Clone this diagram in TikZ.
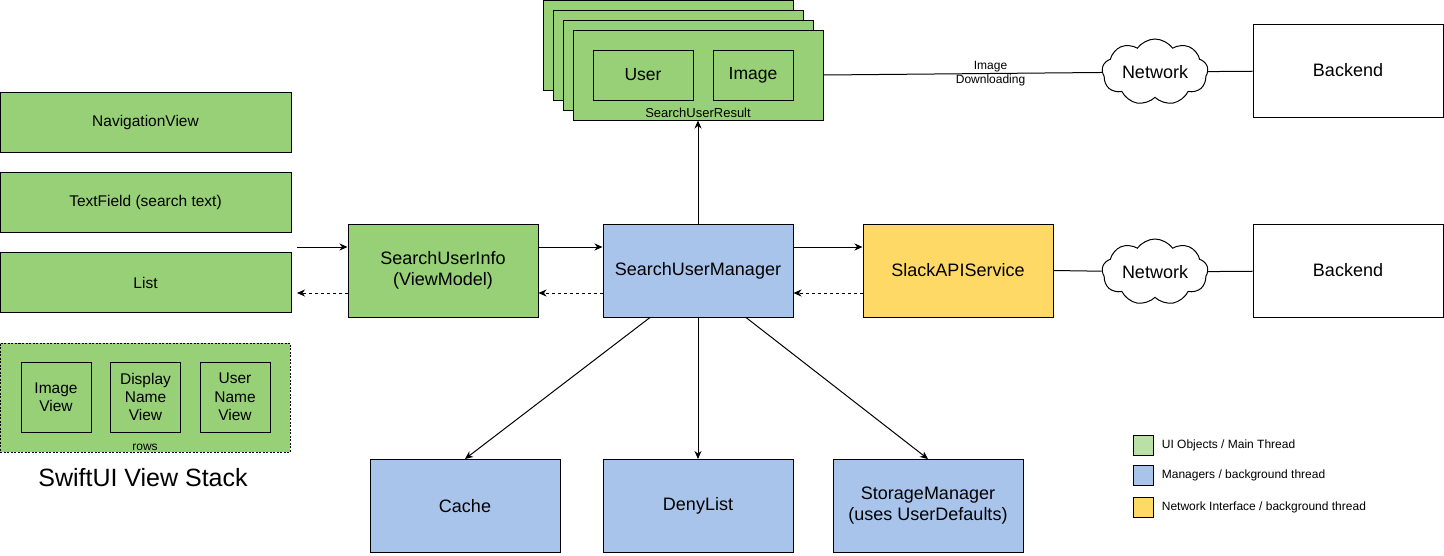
\documentclass[tikz,border=0pt]{standalone}
\usepackage{fontspec}
\setmainfont{Liberation Sans}
\usepackage{xcolor}
\usepackage{tikz}
\usetikzlibrary{arrows.meta,shapes.symbols}

\definecolor{uigreen}{HTML}{97D077}
\definecolor{mgrblue}{HTML}{A9C4EB}
\definecolor{netyellow}{HTML}{FFD966}
\definecolor{keygreen}{HTML}{B9E0A5}
\newcommand{\fsz}[2]{\fontsize{#1}{#2}\selectfont}

\begin{document}
\begin{tikzpicture}[x=1pt, y=-1pt, line width=1pt,
    box/.style={draw, rectangle, minimum width=190pt, minimum height=93pt, align=center, font=\fsz{18}{21}},
    viewbox/.style={draw, rectangle, fill=uigreen, minimum width=291pt, minimum height=60pt, font=\fsz{15.5}{18}},
    rowbox/.style={draw, rectangle, minimum width=70pt, minimum height=70pt, align=center, font=\fsz{15.5}{18.3}},
    card/.style={draw, rectangle, fill=uigreen, minimum width=250pt, minimum height=90pt},
    netcloud/.style={draw, cloud, cloud puffs=9, cloud puff arc=110, aspect=1.6, minimum width=106pt, minimum height=66pt, inner sep=0pt},
    keybox/.style={draw, rectangle, minimum width=20pt, minimum height=20pt},
    keytext/.style={anchor=west, font=\fsz{12}{14}},
    flow/.style={-{Stealth[length=8pt, width=7pt, inset=2.5pt]}},
    back/.style={-{Stealth[length=8pt, width=7pt, inset=2.5pt]}, dash pattern=on 3pt off 3pt}]
  \useasboundingbox (0,0) rectangle (1444,555);

  % search results stack
  \foreach \k in {0,1,2}{%
    \node[card] (card\k) at (668+10*\k, 45+10*\k) {};
  }
  \node[card, label={[anchor=south, inner sep=2pt, font=\fsz{13}{15}]south:SearchUserResult}] (result) at (698,75) {};
  \node[draw, rectangle, minimum width=100pt, minimum height=50pt, font=\fsz{17.5}{20}] (user) at (643,75) {User};
  \node[draw, rectangle, minimum width=80pt, minimum height=50pt, font=\fsz{17.5}{20}] (image) at (753,75) {Image};

  % swiftui views
  \node[viewbox] (nav) at (145.5,122.5) {NavigationView};
  \node[viewbox] (field) at (145.5,202.5) {TextField (search text)};
  \node[viewbox] (list) at (145.5,282.5) {List};
  \node[draw, rectangle, fill=uigreen, dash pattern=on 2pt off 1.5pt, minimum width=290pt, minimum height=109pt,
        label={[anchor=south, inner sep=1pt, font=\fsz{12}{14}]south:rows}] (rows) at (145,397.5) {};
  \node[rowbox] (imgview) at (56,397) {Image\\View};
  \node[rowbox] (nameview) at (145.5,397) {Display\\Name\\View};
  \node[rowbox] (userview) at (235,397) {User\\Name\\View};
  \node[font=\fsz{25}{28}] (stack) at (143,478) {SwiftUI View Stack};

  % middle row
  \node[box, fill=uigreen] (info) at (443,270.5) {SearchUserInfo\\(ViewModel)};
  \node[box, fill=mgrblue] (mgr) at (698,270.5) {SearchUserManager};
  \node[box, fill=netyellow] (slack) at (958,270.5) {SlackAPIService};

  \node[netcloud, label={[font=\fsz{18}{21}]center:Network}] (net1) at (1155,72) {};
  \node[box] (backend1) at (1348,70.5) {Backend};
  \node[netcloud, label={[font=\fsz{18}{21}]center:Network}] (net2) at (1155,272) {};
  \node[box] (backend2) at (1348,270.5) {Backend};

  % storage row
  \node[box, fill=mgrblue] (cache) at (465,506) {Cache};
  \node[box, fill=mgrblue] (deny) at (698,506) {DenyList};
  \node[box, fill=mgrblue] (store) at (928,506) {StorageManager\\(uses UserDefaults)};

  % legend
  \node[keybox, fill=keygreen] (key1) at (1143,445) {};
  \node[keybox, fill=mgrblue] (key2) at (1143,475) {};
  \node[keybox, fill=netyellow] (key3) at (1143,507) {};
  \node[keytext] (keytext1) at (1158,445) {UI Objects / Main Thread};
  \node[keytext] (keytext2) at (1158,475) {Managers / background thread};
  \node[keytext] (keytext3) at (1158,507) {Network Interface / background thread};

  % connectors
  \coordinate (listin) at (297,247);
  \coordinate (listout) at (297,293);
  \draw[flow] (listin) -- ([yshift=23.5pt]info.west);
  \draw[back] ([yshift=-22.5pt]info.west) -- (listout);
  \draw[flow] ([yshift=23.5pt]info.east) -- ([yshift=23.5pt]mgr.west);
  \draw[back] ([yshift=-22.5pt]mgr.west) -- ([yshift=-22.5pt]info.east);
  \draw[flow] ([yshift=23.5pt]mgr.east) -- ([yshift=23.5pt]slack.west);
  \draw[back] ([yshift=-22.5pt]slack.west) -- ([yshift=-22.5pt]mgr.east);
  \draw[flow] (mgr.north) -- (result.south);
  \draw[flow] ([xshift=-48pt]mgr.south) -- (cache.north);
  \draw[flow] (mgr.south) -- (deny.north);
  \draw[flow] ([xshift=48pt]mgr.south) -- (store.north);

  \draw (result.east) -- node[pos=0.6, align=center, font=\fsz{12}{14}] {Image\\Downloading} (net1);
  \draw (net1) -- (backend1);
  \draw (slack.east) -- (net2);
  \draw (net2) -- (backend2);
\end{tikzpicture}
\end{document}
